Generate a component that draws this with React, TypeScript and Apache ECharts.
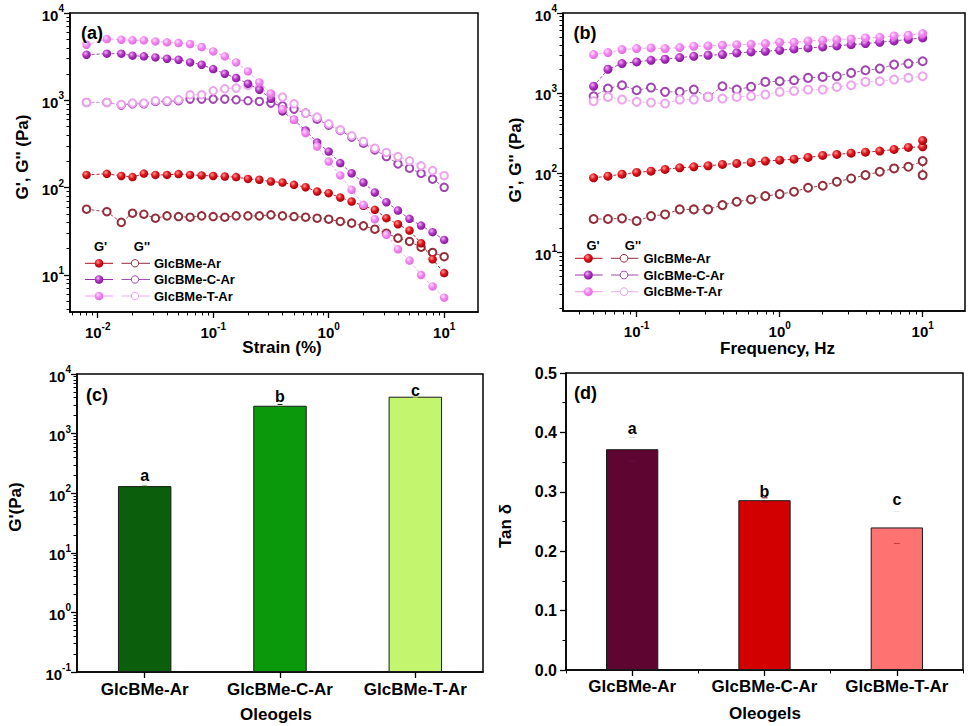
import React, { useEffect, useRef } from "react";
import * as echarts from "echarts";

const FONT = "'Liberation Sans', Arial, Helvetica, sans-serif";

// ---------- shared ----------
const samples = ["GlcBMe-Ar", "GlcBMe-C-Ar", "GlcBMe-T-Ar"];
const letters = ["a", "b", "c"];

// ---------- panel (a): strain sweep ----------
const strainA = [0.008, 0.012, 0.016, 0.02, 0.0251, 0.0316, 0.0398, 0.0501, 0.0631, 0.0794, 0.1, 0.126, 0.158, 0.2, 0.251, 0.316, 0.398, 0.501, 0.631, 0.794, 1, 1.26, 1.58, 2, 2.51, 3.16, 3.98, 5.01, 6.31, 7.94, 10];
const gpA_Ar = [140, 144, 136, 132, 145, 140, 140, 143, 140, 138, 136, 134, 132, 126, 123, 117.5, 114.5, 107.7, 101.2, 90.3, 86.4, 77.1, 69.4, 61.9, 55.7, 44.7, 38.1, 32.3, 23.1, 15.1, 10.5];
const gppA_Ar = [56.6, 53, 40, 51, 49.6, 44.7, 47.5, 46.7, 45.9, 47.5, 46.7, 45.9, 47.5, 47.5, 47.5, 48.8, 47.5, 46.7, 45.9, 44.7, 43.5, 41, 39.2, 36.5, 33.4, 30.1, 26.4, 24.2, 20.8, 18.1, 16.2];
const gpA_C = [3330, 3420, 3420, 3245, 3187, 3103, 2997, 2919, 2718, 2557, 2280, 2017, 1799, 1549, 1322, 1040, 746, 599, 452, 329, 259, 191, 146, 114.5, 87.9, 68.1, 54.7, 43.9, 36.8, 30.9, 25.2];
const gppA_C = [946, 946, 882, 913, 913, 971, 971, 989, 1033, 1033, 1033, 1033, 1015, 989, 971, 930, 866, 793, 714, 609, 520, 452, 379, 323, 271, 227, 187, 167, 146, 125, 101];
const gpA_T = [4335, 5035, 4945, 4860, 4860, 4730, 4610, 4530, 4415, 4075, 3635, 3187, 2718, 2142, 1603, 1189, 794, 599, 421, 296, 199, 138, 94.4, 63.5, 43.5, 28.8, 19.7, 14.6, 10.0, 7.4, 5.5];
const gppA_T = [946, 946, 897, 930, 930, 989, 989, 1015, 1158, 1158, 1287, 1357, 1381, 1482, 1381, 1179, 1089, 913, 714, 642, 539, 460, 393, 338, 283, 253, 227, 203, 178, 157, 137];

// ---------- panel (b): frequency sweep ----------
const freqB = [0.05, 0.063, 0.079, 0.1, 0.126, 0.158, 0.2, 0.251, 0.316, 0.398, 0.501, 0.631, 0.794, 1, 1.26, 1.58, 2, 2.51, 3.16, 3.98, 5.01, 6.31, 7.94, 10];
const freqB_Ar = [0.05, 0.063, 0.079, 0.1, 0.126, 0.158, 0.2, 0.251, 0.316, 0.398, 0.501, 0.631, 0.794, 1, 1.26, 1.58, 2, 2.51, 3.16, 3.98, 5.01, 6.31, 7.94, 10, 10];
const gpB_Ar = [86.6, 90.8, 96.2, 100.9, 104.9, 110.1, 115.5, 118.9, 122.4, 127.2, 130.9, 134.7, 140, 143.9, 148.2, 155.5, 164.8, 169.6, 176.2, 181.2, 186.7, 195.8, 207.5, 211.3, 253.5];
const gppB_Ar = [26.4, 26.4, 26.9, 24.9, 28.7, 30.1, 34.8, 34.8, 34.8, 39.4, 43.4, 46.4, 51.1, 54.1, 57.9, 65, 68.8, 77.2, 84.9, 93.5, 103, 113.3, 118.9, 140, 93.5];
const gpB_C = [1211, 1977, 2327, 2442, 2560, 2637, 2766, 2873, 2960, 3013, 3162, 3258, 3318, 3415, 3548, 3652, 3758, 3869, 4019, 4137, 4298, 4467, 4688, 4870];
const gppB_C = [908, 1133, 1247, 1080, 1166, 1030, 1030, 1101, 891, 1211, 1101, 1189, 1372, 1399, 1440, 1540, 1585, 1616, 1778, 1919, 2014, 2259, 2327, 2489];
const gpB_T = [3013, 3193, 3480, 3583, 3652, 3583, 3690, 3831, 3869, 3946, 4019, 4057, 4137, 4298, 4298, 4467, 4553, 4641, 4731, 4872, 4966, 5163, 5263, 5520];
const gppB_T = [787, 891, 825, 772, 757, 736, 825, 825, 891, 849, 891, 908, 953, 1029, 1059, 1101, 1101, 1189, 1247, 1372, 1399, 1468, 1540, 1616];

// ---------- panel (c): G' bars ----------
const gBars = [131.5, 2933, 4159];
const gBarErr = [4, 150, 50];
const gLetterPos = [202, 4160, 5240];

// ---------- panel (d): tan delta bars ----------
const tanBars = [0.3717, 0.2859, 0.24];
const tanErr = [0.02, 0.004, 0.027];
const tanLetterPos = [0.4065, 0.3, 0.2864];

// ---------- tick labels (exponents of 10) ----------
const ticksA_X = [-2, -1, 0, 1];
const ticksA_Y = [1, 2, 3, 4];
const ticksB_X = [-1, 0, 1];
const ticksB_Y = [1, 2, 3, 4];
const ticksC_Y = [-1, 0, 1, 2, 3, 4];

// axis ranges in log10 space
const rangeA_X = [-2.24, 1.293];
const rangeA_Y = [0.576, 4];
const rangeB_X = [-1.515, 1.296];
const rangeB_Y = [0.27, 4];

// ---------- styles ----------
const STY = [
  { light: "#ff9a9a", base: "#e0161c", dark: "#a8000a", line1: "#b01020", open: "#93303c", line2: "#8f3040" },
  { light: "#f2b6f6", base: "#b534c6", dark: "#84189a", line1: "#9b30ab", open: "#a048b0", line2: "#a050b0" },
  { light: "#ffe4ff", base: "#f286f2", dark: "#e070e0", line1: "#f29af2", open: "#eca4ec", line2: "#eeb0ee" },
];
const greens = ["#0b5e0b", "#0a990a", "#c4f56e"];
const reds = ["#5e0532", "#d20000", "#ff7272"];

const lg = (v: number) => Math.log10(v);

const ball = (st: any) =>
  new echarts.graphic.RadialGradient(0.38, 0.35, 0.65, [
    { offset: 0, color: st.light },
    { offset: 0.5, color: st.base },
    { offset: 1, color: st.dark },
  ]);

function minorLogTicks(lo: number, hi: number): number[] {
  const out: number[] = [];
  for (let n = Math.floor(lo); n <= Math.floor(hi); n++) {
    for (let k = 2; k <= 9; k++) {
      const t = n + Math.log10(k);
      if (t > lo + 1e-9 && t < hi - 1e-9) out.push(t);
    }
  }
  return out;
}

const supRich = {
  b: { fontSize: 15, fontWeight: "bold", fontFamily: FONT, color: "#000", lineHeight: 19, verticalAlign: "bottom" },
  s: { fontSize: 10, fontWeight: "bold", fontFamily: FONT, color: "#000", lineHeight: 10, verticalAlign: "top" },
};

const black = { color: "#000", width: 1.5 };

function majorLogAxis(dim: string, gridIndex: number, min: number, max: number, ticks: number[], margin: number, shift = 0) {
  return {
    type: "value",
    gridIndex,
    min,
    max,
    position: dim === "x" ? "bottom" : "left",
    axisLine: { show: true, onZero: false, lineStyle: black },
    axisTick: { show: true, length: 6, lineStyle: { color: "#000", width: 1.3 }, customValues: ticks.map((t) => t + shift) },
    axisLabel: {
      show: true,
      customValues: ticks.map((t) => t + shift),
      margin,
      color: "#000",
      formatter: (v: number) => `{b|10}{s|${Math.round(v - shift)}}`,
      rich: supRich,
    },
    splitLine: { show: false },
  };
}

function minorAxis(dim: string, gridIndex: number, min: number, max: number, ticks: number[]) {
  return {
    type: "value",
    gridIndex,
    min,
    max,
    position: dim === "x" ? "bottom" : "left",
    axisLine: { show: false, onZero: false },
    axisTick: { show: true, length: 3.5, lineStyle: { color: "#000", width: 1 }, customValues: ticks },
    axisLabel: { show: false },
    splitLine: { show: false },
  };
}

function curve(xs: number[], ys: number[], xIdx: number, yIdx: number, st: any, filled: boolean, size: number) {
  return {
    type: "line",
    xAxisIndex: xIdx,
    yAxisIndex: yIdx,
    data: ys.map((y, i) => [lg(xs[i]), lg(y)]),
    symbol: filled ? "circle" : "emptyCircle",
    symbolSize: size,
    showSymbol: true,
    lineStyle: { color: filled ? st.line1 : st.line2, width: 0.9, type: [3, 2] },
    itemStyle: filled
      ? { color: ball(st), borderWidth: 0 }
      : { color: st.open, borderColor: st.open, borderWidth: 1 },
    emphasis: { disabled: true },
    silent: true,
    z: filled ? 3 : 2,
  };
}

function txt(s: string, x: number, y: number, size: number, align = "center", rotation = 0) {
  return {
    type: "text",
    x,
    y,
    rotation,
    silent: true,
    z: 100,
    style: { text: s, fontSize: size, fontWeight: "bold", fontFamily: FONT, fill: "#000", align, verticalAlign: "middle" },
  };
}

function legend(o: any) {
  const els: any[] = [txt("G'", o.hx1, o.hy, 13), txt("G''", o.hx2, o.hy, 13)];
  STY.forEach((st, i) => {
    const y = o.rows[i];
    els.push({ type: "line", z: 100, silent: true, shape: { x1: o.l1[0], y1: y, x2: o.l1[1], y2: y }, style: { stroke: st.line1, lineWidth: 1 } });
    els.push({ type: "circle", z: 101, silent: true, shape: { cx: o.d1, cy: y, r: o.r1 }, style: { fill: ball(st) } });
    els.push({ type: "line", z: 100, silent: true, shape: { x1: o.l2[0], y1: y, x2: o.l2[1], y2: y }, style: { stroke: st.line2, lineWidth: 1 } });
    els.push({ type: "circle", z: 101, silent: true, shape: { cx: o.d2, cy: y, r: o.r2 }, style: { fill: "#fff", stroke: st.open, lineWidth: 1 } });
    els.push(txt(samples[i], o.tx, y, 13, "left"));
  });
  return els;
}

function errSeries(xIdx: number, yIdx: number, vals: number[], errs: number[], toY: (v: number) => number, upC: string[], loC: string[], hw: number) {
  return {
    type: "custom",
    xAxisIndex: xIdx,
    yAxisIndex: yIdx,
    silent: true,
    z: 5,
    data: vals.map((v, i) => [i, v, errs[i]]),
    renderItem: (params: any, api: any) => {
      const i = api.value(0);
      const v = api.value(1);
      const e = api.value(2);
      const up = api.coord([i, toY(v + e)]);
      const lo = api.coord([i, toY(v - e)]);
      return {
        type: "group",
        children: [
          { type: "line", shape: { x1: up[0] - hw, y1: up[1], x2: up[0] + hw, y2: up[1] }, style: { stroke: upC[params.dataIndex], lineWidth: 1 } },
          { type: "line", shape: { x1: lo[0] - hw, y1: lo[1], x2: lo[0] + hw, y2: lo[1] }, style: { stroke: loC[params.dataIndex], lineWidth: 1 } },
        ],
      };
    },
  };
}

function letterSeries(xIdx: number, yIdx: number, pos: number[], toY: (v: number) => number) {
  return {
    type: "custom",
    xAxisIndex: xIdx,
    yAxisIndex: yIdx,
    silent: true,
    z: 6,
    data: pos.map((p, i) => [i, toY(p)]),
    renderItem: (params: any, api: any) => {
      const pt = api.coord([api.value(0), api.value(1)]);
      return {
        type: "text",
        x: pt[0],
        y: pt[1],
        style: {
          text: letters[params.dataIndex],
          fontSize: 16,
          fontWeight: "bold",
          fontFamily: FONT,
          fill: "#000",
          align: "center",
          verticalAlign: "middle",
        },
      };
    },
  };
}

function categoryAxis(gridIndex: number, margin: number) {
  return {
    type: "category",
    gridIndex,
    data: samples,
    position: "bottom",
    axisLine: { show: true, onZero: false, lineStyle: black },
    axisTick: { show: true, alignWithLabel: true, length: 6, lineStyle: { color: "#000", width: 1.3 } },
    axisLabel: { show: true, interval: 0, margin, fontSize: 17, fontWeight: "bold", fontFamily: FONT, color: "#000" },
    splitLine: { show: false },
  };
}

function buildOption() {
  const gridBase = { show: true, borderColor: "#000", borderWidth: 1.5, backgroundColor: "transparent", containLabel: false, outerBoundsMode: "none" };
  const shiftC = (v: number) => lg(v) + 1;

  const series: any[] = [
    // (a)
    curve(strainA, gppA_Ar, 0, 0, STY[0], false, 7.5),
    curve(strainA, gppA_C, 0, 0, STY[1], false, 7.5),
    curve(strainA, gppA_T, 0, 0, STY[2], false, 7.5),
    curve(strainA, gpA_Ar, 0, 0, STY[0], true, 8.5),
    curve(strainA, gpA_C, 0, 0, STY[1], true, 8.5),
    curve(strainA, gpA_T, 0, 0, STY[2], true, 8.5),
    // (b)
    curve(freqB_Ar, gppB_Ar, 2, 2, STY[0], false, 8),
    curve(freqB, gppB_C, 2, 2, STY[1], false, 8),
    curve(freqB, gppB_T, 2, 2, STY[2], false, 8),
    curve(freqB_Ar, gpB_Ar, 2, 2, STY[0], true, 9),
    curve(freqB, gpB_C, 2, 2, STY[1], true, 9),
    curve(freqB, gpB_T, 2, 2, STY[2], true, 9),
    // (c)
    {
      type: "bar",
      xAxisIndex: 4,
      yAxisIndex: 4,
      barWidth: "39.5%",
      silent: true,
      data: gBars.map((v, i) => ({ value: shiftC(v), itemStyle: { color: greens[i], borderColor: "#1a1a1a", borderWidth: 1 } })),
    },
    errSeries(4, 4, gBars, gBarErr, shiftC, ["#8fbf8f", "#0a3a0a", "#9fc070"], ["#0b5e0b", "#0a990a", "#c4f56e"], 2.5),
    letterSeries(4, 4, gLetterPos, shiftC),
    // (d)
    {
      type: "bar",
      xAxisIndex: 5,
      yAxisIndex: 6,
      barWidth: "39.5%",
      silent: true,
      data: tanBars.map((v, i) => ({ value: v, itemStyle: { color: reds[i], borderColor: "#1a1a1a", borderWidth: 1 } })),
    },
    errSeries(5, 6, tanBars, tanErr, (v) => v, ["#d4d4d4", "#6a0000", "#e6e6e6"], ["#6a1040", "#a00000", "#c83a3a"], 3),
    letterSeries(5, 6, tanLetterPos, (v) => v),
  ];

  const graphic: any[] = [
    txt("(a)", 92, 33, 18),
    txt("(b)", 585, 33, 18),
    txt("(c)", 97, 395, 18),
    txt("(d)", 585.5, 393, 18),
    txt("Strain (%)", 282, 347, 17),
    txt("G', G'' (Pa)", 22, 157, 17, "center", Math.PI / 2),
    txt("Frequency, Hz", 777.5, 348, 17),
    txt("G', G'' (Pa)", 515, 160, 17, "center", Math.PI / 2),
    txt("G'(Pa)", 15, 507, 17, "center", Math.PI / 2),
    txt("Oleogels", 276, 714, 17),
    txt("Tan \u03b4", 505, 526, 17, "center", Math.PI / 2),
    txt("Oleogels", 765, 713, 17),
    ...legend({ hx1: 100.5, hx2: 142, hy: 246.5, rows: [263.3, 279.5, 296], l1: [85, 113], d1: 99, l2: [121.5, 150], d2: 135, tx: 154, r1: 4.3, r2: 3.7 }),
    ...legend({ hx1: 593, hx2: 633, hy: 245, rows: [258.3, 275, 291.7], l1: [575, 602.5], d1: 588.3, l2: [611, 638.3], d2: 624, tx: 643.5, r1: 4.5, r2: 3.9 }),
  ];

  return {
    animation: false,
    backgroundColor: "#fff",
    textStyle: { fontFamily: FONT },
    grid: [
      { ...gridBase, left: 70, top: 13, width: 408, height: 299 },
      { ...gridBase, left: 563, top: 13, width: 402, height: 298 },
      { ...gridBase, left: 77, top: 374, width: 406, height: 298 },
      { ...gridBase, left: 566, top: 373, width: 397, height: 297 },
    ],
    xAxis: [
      majorLogAxis("x", 0, rangeA_X[0], rangeA_X[1], ticksA_X, 9),
      minorAxis("x", 0, rangeA_X[0], rangeA_X[1], minorLogTicks(rangeA_X[0], rangeA_X[1])),
      majorLogAxis("x", 1, rangeB_X[0], rangeB_X[1], ticksB_X, 9),
      minorAxis("x", 1, rangeB_X[0], rangeB_X[1], minorLogTicks(rangeB_X[0], rangeB_X[1])),
      categoryAxis(2, 9),
      categoryAxis(3, 8),
      {
        type: "category",
        gridIndex: 3,
        data: samples,
        position: "bottom",
        axisLine: { show: false, onZero: false },
        axisTick: { show: true, alignWithLabel: false, length: 3.5, lineStyle: { color: "#000", width: 1 } },
        axisLabel: { show: false },
        splitLine: { show: false },
      },
    ],
    yAxis: [
      majorLogAxis("y", 0, rangeA_Y[0], rangeA_Y[1], ticksA_Y, 6),
      minorAxis("y", 0, rangeA_Y[0], rangeA_Y[1], minorLogTicks(rangeA_Y[0], rangeA_Y[1])),
      majorLogAxis("y", 1, rangeB_Y[0], rangeB_Y[1], ticksB_Y, 6),
      minorAxis("y", 1, rangeB_Y[0], rangeB_Y[1], minorLogTicks(rangeB_Y[0], rangeB_Y[1])),
      majorLogAxis("y", 2, 0, 5, ticksC_Y, 6, 1),
      minorAxis("y", 2, 0, 5, minorLogTicks(-1, 4).map((t) => t + 1)),
      {
        type: "value",
        gridIndex: 3,
        min: 0,
        max: 0.5,
        interval: 0.1,
        position: "left",
        axisLine: { show: true, onZero: false, lineStyle: black },
        axisTick: { show: true, length: 6, lineStyle: { color: "#000", width: 1.3 } },
        minorTick: { show: true, splitNumber: 2, length: 3.5, lineStyle: { color: "#000", width: 1 } },
        axisLabel: { show: true, margin: 9, fontSize: 16, fontWeight: "bold", fontFamily: FONT, color: "#000", formatter: (v: number) => v.toFixed(1) },
        splitLine: { show: false },
        minorSplitLine: { show: false },
      },
    ],
    series,
    graphic,
  };
}

export default function App() {
  const ref = useRef<HTMLDivElement>(null);
  useEffect(() => {
    if (!ref.current) return;
    const chart = echarts.init(ref.current, null, { renderer: "svg" });
    chart.setOption(buildOption() as any);
    return () => chart.dispose();
  }, []);
  return (
    <div
      ref={ref}
      style={{ position: "absolute", left: 0, top: 0, width: 969, height: 726, background: "#fff" }}
    />
  );
}
